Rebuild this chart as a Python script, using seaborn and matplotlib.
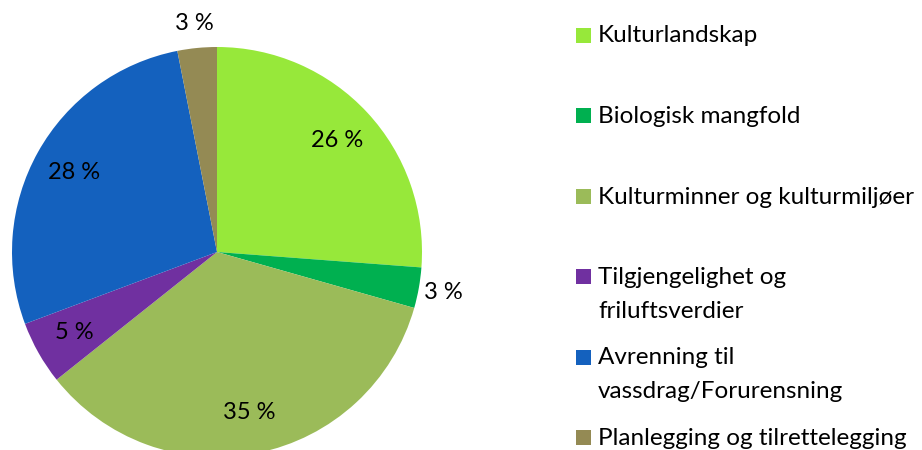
import matplotlib.pyplot as plt
import numpy as np
import seaborn as sns
from matplotlib.patches import Rectangle

# Data (shares in %)
categories = ['Kulturlandskap', 'Biologisk mangfold', 'Kulturminner og kulturmiljøer',
              'Tilgjengelighet og\nfriluftsverdier', 'Avrenning til\nvassdrag/Forurensning',
              'Planlegging og tilrettelegging']
shares = [26.2, 3.2, 34.9, 5.0, 27.6, 3.1]
colors = ['#97E83A', '#00B050', '#9BBB59', '#7030A0', '#1461BE', '#948A54']

sns.set_theme(style='white')
plt.rcParams['font.family'] = ['Lato', 'DejaVu Sans']

W, H = 922, 450
fig = plt.figure(figsize=(W / 100, H / 100), dpi=100)

# Pie: centre ~ (217, 252) px, radius ~ 205 px
ax = fig.add_axes([12 / W, -7 / H, 410 / W, 410 / H])
wedges, texts, autotexts = ax.pie(
    shares, colors=sns.color_palette(colors), startangle=90, counterclock=False,
    autopct=lambda p: f'{p:.0f} %', pctdistance=0.8, radius=1,
    wedgeprops=dict(linewidth=0), textprops=dict(fontsize=17, color='black'))
ax.set_xlim(-1, 1)
ax.set_ylim(-1, 1)

# small slices get their label outside the pie
for w, t, v in zip(wedges, autotexts, shares):
    if v < 4:
        ang = np.deg2rad((w.theta1 + w.theta2) / 2)
        t.set_position((1.12 * np.cos(ang), 1.12 * np.sin(ang)))

# Legend drawn by hand so rows keep equal spacing like the original
first_base = 42.5
step = 80.5
line_gap = 33.5
for i, (lab, c) in enumerate(zip(categories, colors)):
    base = first_base + i * step
    fig.patches.append(Rectangle((576 / W, 1 - base / H), 15 / W, 15 / H,
                                 transform=fig.transFigure, color=c, lw=0))
    for k, line in enumerate(lab.split('\n')):
        fig.text(598 / W, 1 - (base + k * line_gap) / H, line, fontsize=17.5,
                 va='baseline', ha='left', color='black')

fig.savefig('out.png', dpi=100)
